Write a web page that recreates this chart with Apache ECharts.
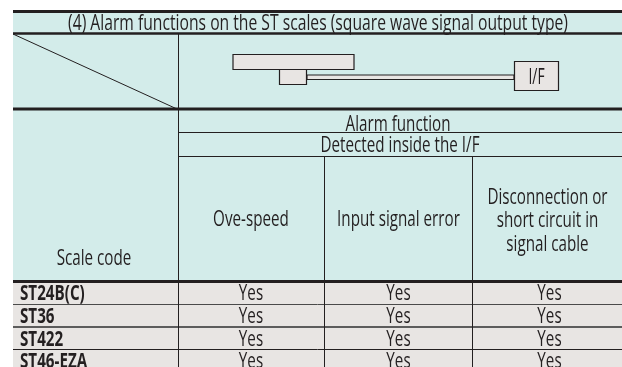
<!DOCTYPE html>
<html>
<head>
<meta charset="utf-8">
<style>
  html, body { margin: 0; padding: 0; background: #fff; }
  #chart { width: 622px; height: 367px; }
</style>
</head>
<body>
<div id="chart"></div>
<script src="https://cdn.jsdelivr.net/npm/echarts@6/dist/echarts.min.js"></script>
<script>
const tableTitle = "(4) Alarm functions on the ST scales (square wave signal output type)";
const groupTitle = "Alarm function";
const subgroupTitle = "Detected inside the I/F";
const rowHeader = "Scale code";
const boxLabel = "I/F";
const alarmColumns = ["Ove-speed", "Input signal error", "Disconnection or\nshort circuit in\nsignal cable"];
const scaleCodes = ["ST24B(C)", "ST36", "ST422", "ST46-EZA"];
const rowValues = [
  ["Yes", "Yes", "Yes"],
  ["Yes", "Yes", "Yes"],
  ["Yes", "Yes", "Yes"],
  ["Yes", "Yes", "Yes"],
];

const headFill = "#d3ecea";
const bodyFill = "#e8e5e3";
const ink = "#231f20";
const fontFamily = '"Open Sans", "Noto Sans", sans-serif';

// table frame, in pixels
const left = 13;
const right = 622;
const colX = [178, 324, 473, right];
const rowY = [281, 304, 327, 349, 372];
const ruleColor = ["#231f20", "#4a4a4a", "#5c5c5c", "#231f20"];
const ruleWidth = [3, 1, 2, 1];

const els = [];

function rect(x, y, w, h, fill, stroke, lineWidth) {
  els.push({ type: "rect", shape: { x, y, width: w, height: h }, style: { fill, stroke, lineWidth: lineWidth || 0 } });
}
function line(x1, y1, x2, y2, lineWidth, stroke) {
  els.push({ type: "line", shape: { x1, y1, x2, y2 }, style: { stroke: stroke || ink, lineWidth } });
}
// the source type is condensed, so the text is squeezed horizontally
function label(text, x, y, opts) {
  const o = opts || {};
  els.push({
    type: "text",
    x, y,
    scaleX: o.scaleX || 0.724,
    style: {
      text,
      fill: ink,
      font: (o.weight || "400") + " " + (o.size || 21) + "px " + fontFamily,
      align: o.align || "center",
      verticalAlign: "middle",
      lineHeight: o.lineHeight || 23.5,
    },
  });
}

// backgrounds
rect(left, 11, right - left, 270, headFill);
rect(left, 281, right - left, 86, bodyFill);

// horizontal rules
line(left, 11.5, right, 11.5, 3);
line(left, 33.5, right, 33.5, 2.5);
line(left, 109, right, 109, 3);
line(178, 132.5, right, 132.5, 1);
line(178, 156.5, right, 156.5, 1);
rowY.slice(0, 4).forEach((y, i) => line(left, y + (ruleWidth[i] % 2 ? 0.5 : 0), right, y + (ruleWidth[i] % 2 ? 0.5 : 0), ruleWidth[i], ruleColor[i]));

// vertical rules
line(178.5, 34, 178.5, 367, 1);
line(324.5, 157, 324.5, 367, 1);
line(472.5, 157, 472.5, 367, 1);

// diagonal header cell
line(13, 34, 177, 109, 1);

// diagram: scale, head, cable, interface box
rect(233, 54.5, 121, 15, bodyFill, ink, 1.2);
rect(279.5, 69.5, 27, 15, bodyFill, ink, 1.2);
rect(307, 75, 207, 4.5, bodyFill, ink, 1.2);
rect(514.5, 61.5, 44, 29, bodyFill, ink, 1.2);
label(boxLabel, 536.5, 78, { scaleX: 0.66 });

// header texts
label(tableTitle, 318, 24, { size: 21, scaleX: 0.747 });
label(groupTitle, 398, 125);
label(subgroupTitle, 400, 146);
label(rowHeader, 94, 259);
label(alarmColumns[0], (colX[0] + colX[1]) / 2, 220);
label(alarmColumns[1], (colX[1] + colX[2]) / 2, 220);
label(alarmColumns[2], (colX[2] + colX[3]) / 2, 221.5);

// body rows
scaleCodes.forEach((code, r) => {
  const y = (rowY[r] + rowY[r + 1]) / 2 + 2;
  label(code, 20, y, { weight: "700", align: "left" });
  rowValues[r].forEach((text, c) => label(text, (colX[c] + colX[c + 1]) / 2 + (c === 2 ? 2 : 0), y));
});

const chart = echarts.init(document.getElementById("chart"), null, { renderer: "canvas" });
chart.setOption({ animation: false, graphic: { elements: els } });
</script>
</body>
</html>
